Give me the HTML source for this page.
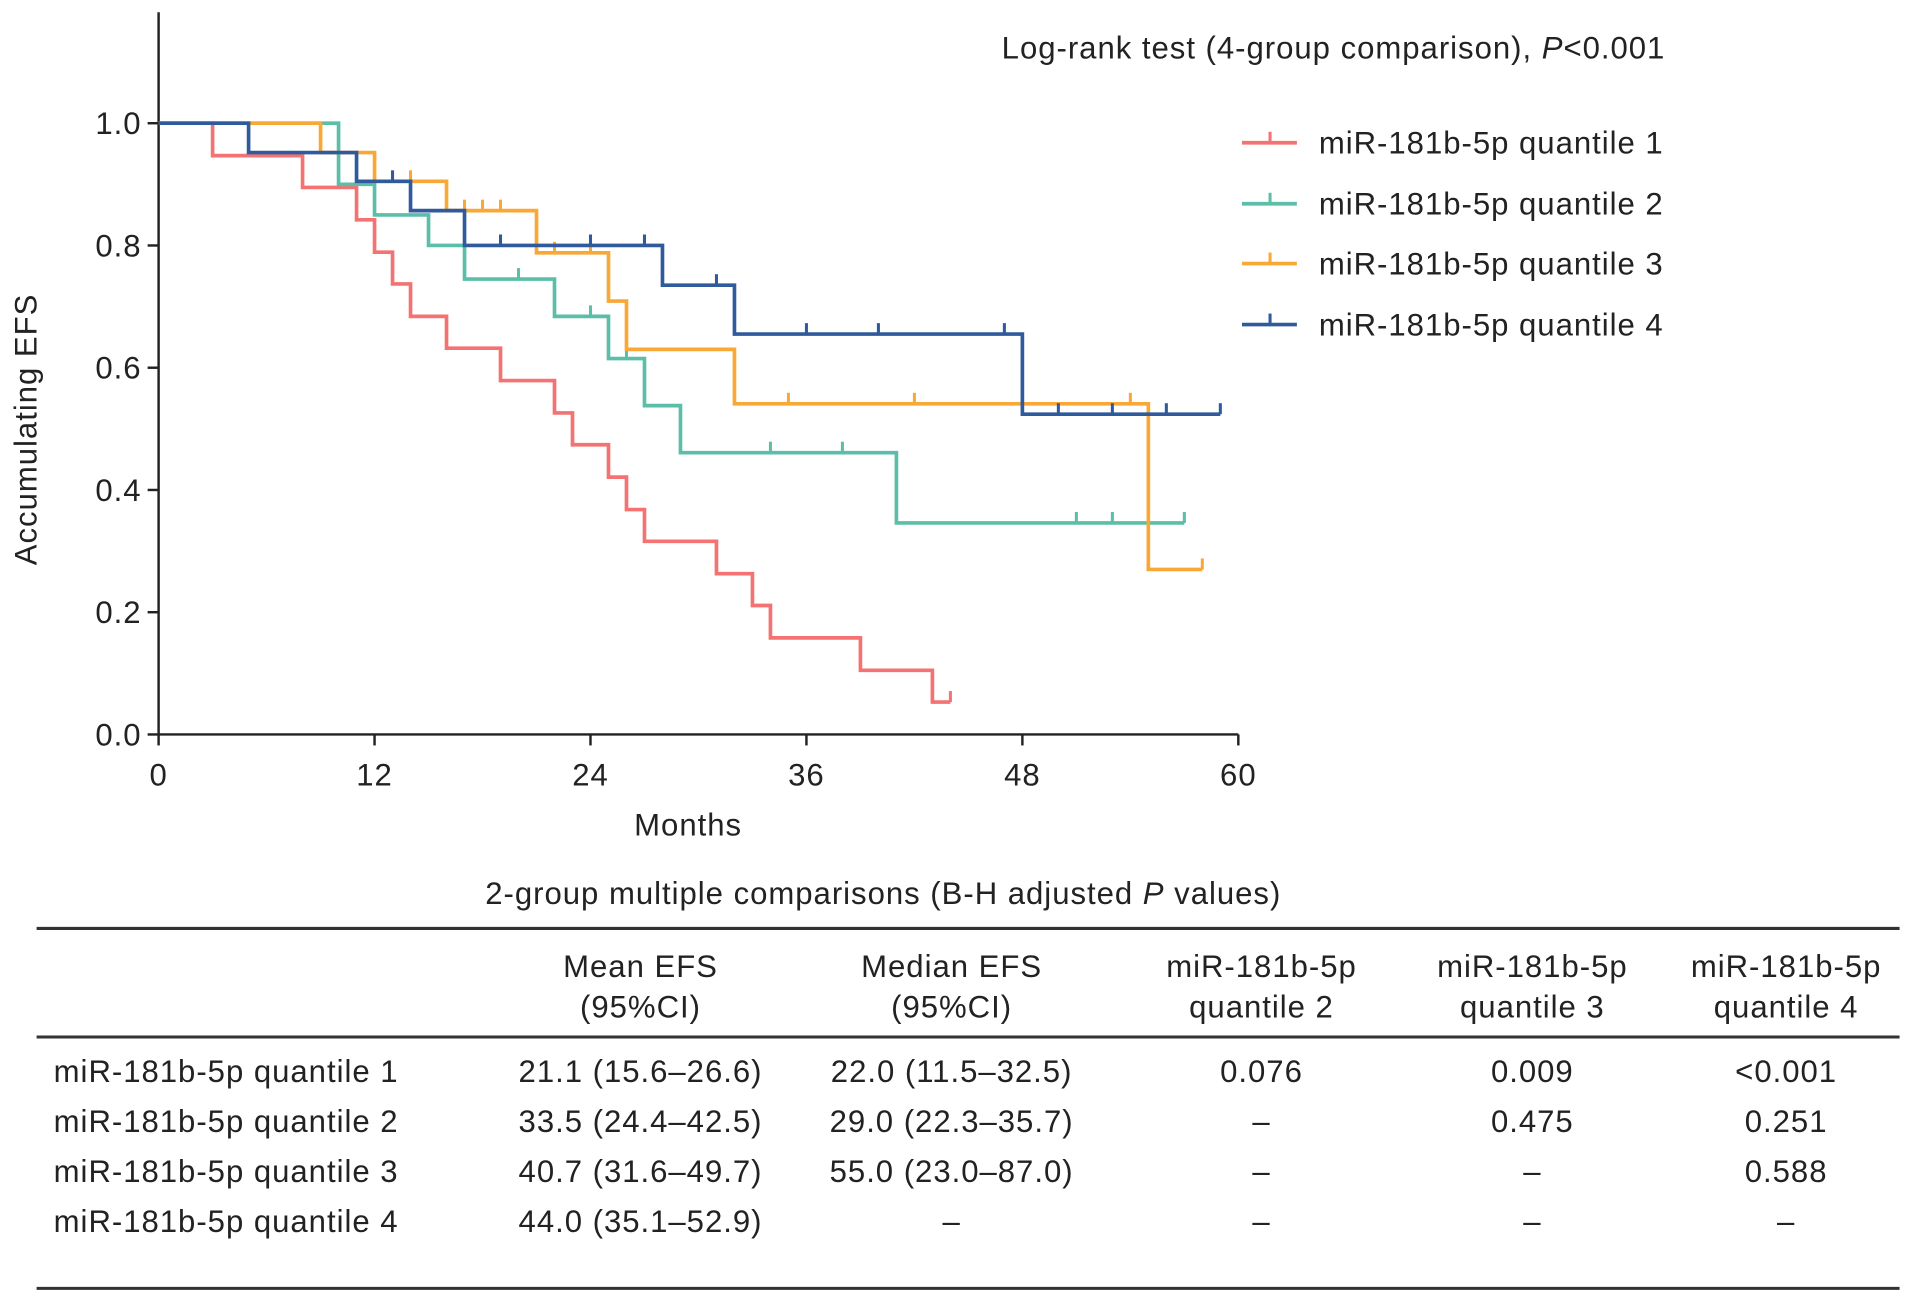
<!DOCTYPE html>
<html><head><meta charset="utf-8"><style>
html,body{margin:0;padding:0;background:#fff;}
svg{display:block;}
text{font-family:"Liberation Sans",Arial,sans-serif;fill:#222;letter-spacing:0.8px;}
</style></head><body>
<svg id="chart" width="1913" height="1303" viewBox="0 0 1568 1068" preserveAspectRatio="none" xmlns="http://www.w3.org/2000/svg">
<g id="plot"></g>
<text x="1365" y="48" text-anchor="end" font-size="25.5">Log-rank test (4-group comparison), <tspan font-style="italic">P</tspan>&lt;0.001</text>
<text transform="translate(30,352) rotate(-90)" text-anchor="middle" font-size="25.5">Accumulating EFS</text>
<text x="564" y="685" text-anchor="middle" font-size="25.5">Months</text>
<g id="legend"></g>
<g font-size="25.5">
<text x="724" y="741" text-anchor="middle">2-group multiple comparisons (B-H adjusted <tspan font-style="italic">P</tspan> values)</text>
<line x1="30" y1="761" x2="1557" y2="761" stroke="#333" stroke-width="2.5"/>
<line x1="30" y1="850" x2="1557" y2="850" stroke="#333" stroke-width="2.5"/>
<line x1="30" y1="1056" x2="1557" y2="1056" stroke="#333" stroke-width="2.5"/>
<g text-anchor="middle">
<text x="525" y="801">Mean EFS</text><text x="525" y="834">(95%CI)</text>
<text x="780" y="801">Median EFS</text><text x="780" y="834">(95%CI)</text>
<text x="1034" y="801">miR-181b-5p</text><text x="1034" y="834">quantile 2</text>
<text x="1256" y="801">miR-181b-5p</text><text x="1256" y="834">quantile 3</text>
<text x="1464" y="801">miR-181b-5p</text><text x="1464" y="834">quantile 4</text>
</g>
<g>
<text x="44" y="887">miR-181b-5p quantile 1</text>
<text x="525" y="887" text-anchor="middle">21.1 (15.6–26.6)</text>
<text x="780" y="887" text-anchor="middle">22.0 (11.5–32.5)</text>
<text x="1034" y="887" text-anchor="middle">0.076</text>
<text x="1256" y="887" text-anchor="middle">0.009</text>
<text x="1464" y="887" text-anchor="middle">&lt;0.001</text>
</g>
<g>
<text x="44" y="928">miR-181b-5p quantile 2</text>
<text x="525" y="928" text-anchor="middle">33.5 (24.4–42.5)</text>
<text x="780" y="928" text-anchor="middle">29.0 (22.3–35.7)</text>
<text x="1034" y="928" text-anchor="middle">–</text>
<text x="1256" y="928" text-anchor="middle">0.475</text>
<text x="1464" y="928" text-anchor="middle">0.251</text>
</g>
<g>
<text x="44" y="969">miR-181b-5p quantile 3</text>
<text x="525" y="969" text-anchor="middle">40.7 (31.6–49.7)</text>
<text x="780" y="969" text-anchor="middle">55.0 (23.0–87.0)</text>
<text x="1034" y="969" text-anchor="middle">–</text>
<text x="1256" y="969" text-anchor="middle">–</text>
<text x="1464" y="969" text-anchor="middle">0.588</text>
</g>
<g>
<text x="44" y="1010">miR-181b-5p quantile 4</text>
<text x="525" y="1010" text-anchor="middle">44.0 (35.1–52.9)</text>
<text x="780" y="1010" text-anchor="middle">–</text>
<text x="1034" y="1010" text-anchor="middle">–</text>
<text x="1256" y="1010" text-anchor="middle">–</text>
<text x="1464" y="1010" text-anchor="middle">–</text>
</g>
</g>
</svg>
<script>
const xTicks = [0, 12, 24, 36, 48, 60];
const yTicks = [0.0, 0.2, 0.4, 0.6, 0.8, 1.0];
const yTickLabels = ["0.0", "0.2", "0.4", "0.6", "0.8", "1.0"];
const seriesNames = ["miR-181b-5p quantile 1", "miR-181b-5p quantile 2", "miR-181b-5p quantile 3", "miR-181b-5p quantile 4"];
const seriesColors = ["#f47272", "#5bbea8", "#f9a836", "#2f5a9c"];
// step times and survival values after each step
const q1Times = [0, 3, 8, 11, 12, 13, 14, 16, 19, 22, 23, 25, 26, 27, 31, 33, 34, 39, 43];
const q1Surv = [1.0, 0.947, 0.895, 0.842, 0.789, 0.737, 0.684, 0.632, 0.579, 0.526, 0.474, 0.421, 0.368, 0.316, 0.263, 0.211, 0.158, 0.105, 0.053];
const q1End = 44;
const q1Censor = [44];
const q2Times = [0, 10, 12, 15, 17, 22, 25, 27, 29, 41];
const q2Surv = [1.0, 0.90, 0.85, 0.80, 0.745, 0.684, 0.615, 0.538, 0.461, 0.346];
const q2End = 57;
const q2Censor = [20, 24, 26, 34, 38, 51, 53, 57];
const q3Times = [0, 9, 12, 16, 21, 25, 26, 32, 55];
const q3Surv = [1.0, 0.952, 0.905, 0.857, 0.788, 0.709, 0.630, 0.541, 0.270];
const q3End = 58;
const q3Censor = [14, 17, 18, 19, 22, 24, 35, 42, 54, 58];
const q4Times = [0, 5, 11, 14, 17, 28, 32, 48];
const q4Surv = [1.0, 0.952, 0.905, 0.857, 0.80, 0.735, 0.655, 0.524];
const q4End = 59;
const q4Censor = [13, 19, 24, 27, 31, 36, 40, 47, 50, 53, 56, 59];

const NS = "http://www.w3.org/2000/svg";
const X0 = 130, X1 = 1015, Y0 = 602, Y1 = 101;
const xScale = m => X0 + (m / 60) * (X1 - X0);
const yScale = v => Y0 - v * (Y0 - Y1);
const plot = document.getElementById('plot');
function mk(tag, attrs, parent) {
  const e = document.createElementNS(NS, tag);
  for (const k in attrs) e.setAttribute(k, attrs[k]);
  parent.appendChild(e);
  return e;
}
const yAxis = mk('line', {x1: X0, y1: 10, x2: X0, y2: Y0, stroke: '#222', 'stroke-width': 2}, plot);


const xAxis = mk('line', {x1: X0, y1: Y0, x2: X1, y2: Y0, stroke: '#222', 'stroke-width': 2}, plot);


xTicks.forEach(t => {
  const x = xScale(t);
  mk('line', {x1: x, y1: Y0, x2: x, y2: Y0 + 9, stroke: '#222', 'stroke-width': 2}, plot);
  const tx = mk('text', {x: x, y: Y0 + 42, 'text-anchor': 'middle', 'font-size': 25.5}, plot);
  tx.textContent = t;
  
  
});
yTicks.forEach((t, i) => {
  const y = yScale(t);
  mk('line', {x1: X0 - 9, y1: y, x2: X0, y2: y, stroke: '#222', 'stroke-width': 2}, plot);
  const tx = mk('text', {x: X0 - 14, y: y + 9, 'text-anchor': 'end', 'font-size': 25.5}, plot);
  tx.textContent = yTickLabels[i];
  
  
});
const all = [
  [q1Times, q1Surv, q1End, q1Censor],
  [q2Times, q2Surv, q2End, q2Censor],
  [q3Times, q3Surv, q3End, q3Censor],
  [q4Times, q4Surv, q4End, q4Censor]
];
function survAt(times, surv, t) {
  let v = surv[0];
  for (let i = 0; i < times.length; i++) if (times[i] <= t) v = surv[i];
  return v;
}
all.forEach((s, si) => {
  const [times, surv, end, cens] = s;
  let d = 'M' + xScale(times[0]) + ',' + yScale(surv[0]);
  for (let i = 1; i < times.length; i++) {
    d += ' H' + xScale(times[i]) + ' V' + yScale(surv[i]);
  }
  d += ' H' + xScale(end);
  const p = mk('path', {d: d, fill: 'none', stroke: seriesColors[si], 'stroke-width': 3}, plot);
  
  
  cens.forEach(c => {
    const y = yScale(survAt(times, surv, c));
    const m = mk('line', {x1: xScale(c), y1: y, x2: xScale(c), y2: y - 9, stroke: seriesColors[si], 'stroke-width': 2.5}, plot);
    
    
  });
});
const legend = document.getElementById('legend');
const legendY = [117, 167, 216, 266];
seriesNames.forEach((n, i) => {
  const g = mk('g', {}, legend);
  
  
  mk('line', {x1: 1018, y1: legendY[i], x2: 1063, y2: legendY[i], stroke: seriesColors[i], 'stroke-width': 3}, g);
  mk('line', {x1: 1041, y1: legendY[i], x2: 1041, y2: legendY[i] - 9, stroke: seriesColors[i], 'stroke-width': 2.5}, g);
  const t = mk('text', {x: 1081, y: legendY[i] + 9, 'font-size': 25.5}, g);
  t.textContent = n;
});
</script>
</body></html>
